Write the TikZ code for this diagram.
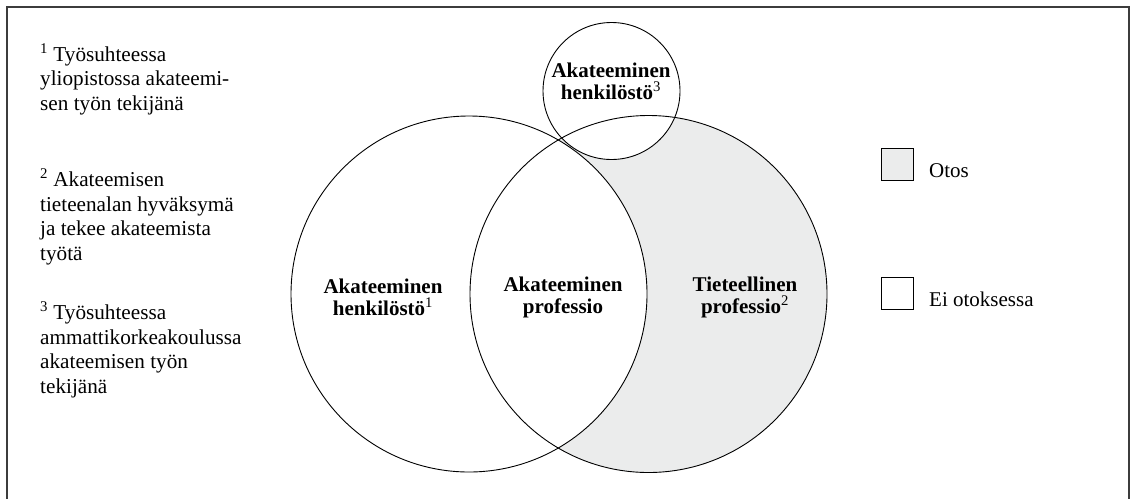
\documentclass[tikz,border=0pt]{standalone}
\usepackage{fontspec}
\setmainfont{Liberation Serif}
\definecolor{shadegray}{RGB}{235,236,236}
\definecolor{framegray}{RGB}{60,60,60}
\begin{document}
\begin{tikzpicture}[x=1pt,y=-1pt,
  ring/.style={circle, draw=black, line width=0.9pt, minimum size=#1, inner sep=0pt},
  lbl/.style={font=\fontsize{21}{22}\selectfont\bfseries, align=center, inner sep=0pt},
  note/.style={font=\fontsize{21.2}{24.5}\selectfont, align=left, anchor=base west, inner sep=0pt},
  legbox/.style={draw=black, line width=0.8pt, minimum size=32pt, inner sep=0pt},
  legtext/.style={font=\fontsize{21}{24.5}\selectfont, anchor=base west, inner sep=0pt},
  frame/.style={draw=framegray, line width=2pt}]
\useasboundingbox (0,0) rectangle (1131,498);
\fill[white] (0,0) rectangle (1131,498);
\draw[frame] (6.5,6.5) rectangle (1128.5,512);
% shading
\begin{scope}
  \clip (648.5,294) circle[radius=178.5];
  \fill[shadegray] (648.5,294) circle[radius=178.5];
  \fill[white] (469,294) circle[radius=178];
  \fill[white] (611.5,91) circle[radius=68.5];
\end{scope}
% circles
\node[ring=356pt] (lc) at (469,294) {};
\node[ring=357pt] (rc) at (648.5,294) {};
\node[ring=137pt] (sc) at (611.5,91) {};
% labels
\node[lbl] (l1) at (383,297) {Akateeminen\\henkilöstö\textsuperscript{\mdseries 1}};
\node[lbl] (l2) at (563,297) {Akateeminen\\professio};
\node[lbl] (l3) at (745,297) {Tieteellinen\\professio\textsuperscript{\mdseries 2}};
\node[lbl] (l4) at (611,81) {Akateeminen\\henkilöstö\textsuperscript{\mdseries 3}};
% notes
\node[note] (n1) at (40,110) {\textsuperscript{1} Työsuhteessa\\yliopistossa akateemi-\\sen työn tekijänä};
\node[note] (n2) at (40,260) {\textsuperscript{2} Akateemisen\\tieteenalan hyväksymä\\ja tekee akateemista\\työtä};
\node[note] (n3) at (40,393) {\textsuperscript{3} Työsuhteessa\\ammattikorkeakoulussa\\akateemisen työn\\tekijänä};
% legend
\node[legbox, fill=shadegray] (b1) at (897,164) {};
\node[legbox, fill=white] (b2) at (897,293.5) {};
\node[legtext] (t1) at (929,177) {Otos};
\node[legtext] (t2) at (929,306) {Ei otoksessa};
\end{tikzpicture}
\end{document}
